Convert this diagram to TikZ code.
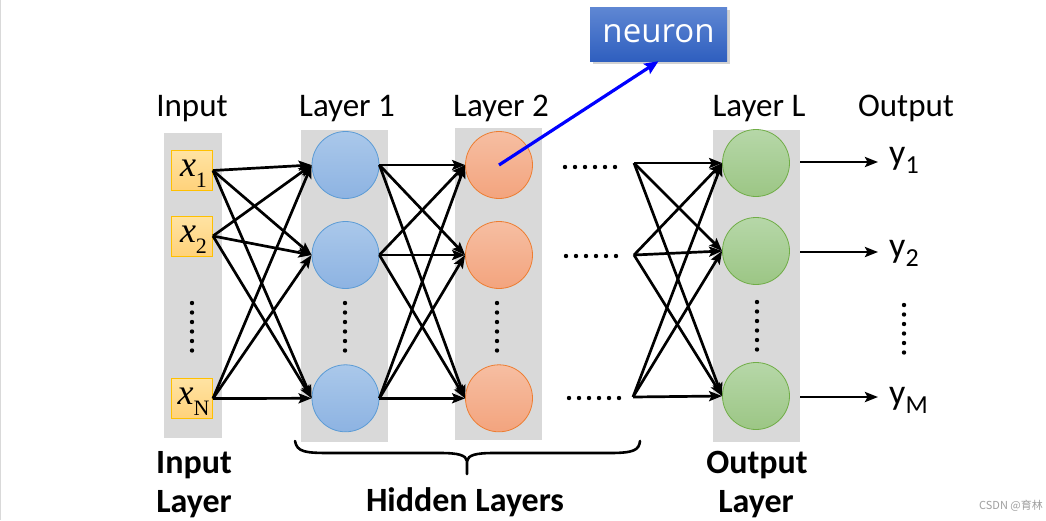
\documentclass[tikz,border=0pt]{standalone}
\usepackage{fontspec}
\setmainfont{Carlito}
\newfontfamily\timesf{Liberation Serif}
\newfontfamily\opensans{Open Sans}
\newfontfamily\cjk{Noto Sans CJK SC}
\usetikzlibrary{arrows.meta,shadows,calc}
\definecolor{colgray}{HTML}{D9D9D9}
\definecolor{bluetop}{HTML}{AAC8EA}
\definecolor{bluebot}{HTML}{8DB3E2}
\definecolor{blueedge}{HTML}{5B9BD5}
\definecolor{orgtop}{HTML}{F6BEA2}
\definecolor{orgbot}{HTML}{F3A47E}
\definecolor{orgedge}{HTML}{ED7D31}
\definecolor{grntop}{HTML}{B6D7A8}
\definecolor{grnbot}{HTML}{9CC685}
\definecolor{grnedge}{HTML}{70AD47}
\definecolor{inbtop}{HTML}{FFE3A3}
\definecolor{inbbot}{HTML}{FFD27A}
\definecolor{inbedge}{HTML}{FFC000}
\definecolor{neutop}{HTML}{5F87D3}
\definecolor{neubot}{HTML}{2F5FBF}
\newcommand\xlabel[1]{\hspace*{3pt}{\timesf\itshape\fontsize{36}{36}\selectfont x}\raisebox{-11pt}{\timesf\fontsize{22}{22}\selectfont #1}}
\newcommand\ylabel[1]{y\raisebox{-9pt}{\fontsize{26}{26}\selectfont #1}}
\begin{document}
\begin{tikzpicture}[x=1pt,y=-1pt,
  colbox/.style={rectangle,fill=colgray,draw=none,inner sep=0pt,anchor=north west},
  inbox/.style={rectangle,draw=inbedge,line width=0.9pt,top color=inbtop,bottom color=inbbot,
    minimum width=41pt,minimum height=40pt,inner sep=0pt,text height=21pt,text depth=9pt},
  neu/.style={circle,minimum size=67pt,inner sep=0pt,line width=0.8pt},
  neublue/.style={neu,draw=blueedge,top color=bluetop,bottom color=bluebot},
  neuorg/.style={neu,draw=orgedge,top color=orgtop,bottom color=orgbot},
  neugrn/.style={neu,draw=grnedge,top color=grntop,bottom color=grnbot},
  toplbl/.style={anchor=base,inner sep=0pt,font=\fontsize{33}{36}\selectfont},
  botlbl/.style={anchor=base,inner sep=0pt,font=\bfseries\fontsize{34}{36}\selectfont},
  ylbl/.style={anchor=base west,inner sep=0pt,font=\fontsize{36}{38}\selectfont},
  conn/.style={line width=2.7pt,-{Stealth[length=13pt,width=10pt,inset=2.5pt]}},
  bluearr/.style={blue,line width=3.2pt,-{Stealth[length=14pt,width=12pt,inset=2.5pt]}},
  dotfill/.style={fill=black}
]
\useasboundingbox (0,0) rectangle (1046,520);
\fill[white] (0,0) rectangle (1046,520);
\draw[gray!30,line width=1.2pt] (0.6,0) -- (0.6,520);

% columns
\node[colbox,minimum width=58pt,minimum height=305pt] (c0) at (164,133) {};
\node[colbox,minimum width=87pt,minimum height=312pt] (c1) at (301,130) {};
\node[colbox,minimum width=87pt,minimum height=312pt] (c2) at (455,128) {};
\node[colbox,minimum width=87pt,minimum height=312pt] (c3) at (713,130) {};

% input boxes
\node[inbox] (x1) at (192,170.5) {\xlabel{1}};
\node[inbox] (x2) at (192,236) {\xlabel{2}};
\node[inbox] (xN) at (192,398.5) {\xlabel{N}};

% layer 1
\node[neublue] (l1a) at (345.5,165) {};
\node[neublue] (l1b) at (345.5,255) {};
\node[neublue] (l1c) at (345.5,398.3) {};
% layer 2
\node[neuorg] (l2a) at (499,165) {};
\node[neuorg] (l2b) at (499,255) {};
\node[neuorg] (l2c) at (499,398.3) {};
% layer L
\node[neugrn] (lLa) at (756,163) {};
\node[neugrn] (lLb) at (756,251) {};
\node[neugrn] (lLc) at (756,396) {};

% vertical dots
\foreach \xx/\yy in {192/303,345/303,497/303,757/302,904/305}{
  \foreach \k in {0,...,5}{
    \fill[dotfill] (\xx,\yy+\k*9.5) circle (2.2pt);
  }
}
% horizontal dots
\foreach \xx/\yy in {565/167,566/256,569/398}{
  \foreach \k in {0,...,5}{
    \fill[dotfill] (\xx+\k*10,\yy) circle (2.2pt);
  }
}

% connections input -> layer 1
\foreach \s in {x1,x2,xN}{
  \foreach \t in {l1a,l1b,l1c}{
    \draw[conn] (\s.east) -- (\t.west);
  }
}
% layer 1 -> layer 2
\foreach \s in {l1a,l1b,l1c}{
  \foreach \t in {l2a,l2b,l2c}{
    \draw[conn] (\s.east) -- (\t.west);
  }
}
% ... -> layer L
\coordinate (d1) at (634,163);
\coordinate (d2) at (634,255);
\coordinate (d3) at (633,397);
\foreach \s in {d1,d2,d3}{
  \foreach \t in {lLa,lLb,lLc}{
    \draw[conn] (\s) -- (\t.west);
  }
}
% outputs
\coordinate (o1s) at (800,162); \coordinate (o1e) at (878,162);
\coordinate (o2s) at (800,252); \coordinate (o2e) at (878,252);
\coordinate (o3s) at (800,397); \coordinate (o3e) at (878,397);
\draw[conn] (o1s) -- (o1e);
\draw[conn] (o2s) -- (o2e);
\draw[conn] (o3s) -- (o3e);
\node[ylbl] (y1) at (889,164) {\ylabel{1}};
\node[ylbl] (y2) at (889,257) {\ylabel{2}};
\node[ylbl] (yM) at (889,404) {\ylabel{M}};

% top labels
\node[toplbl] (tin) at (192,116) {Input};
\node[toplbl] (tl1) at (347,116) {Layer 1};
\node[toplbl] (tl2) at (501,116) {Layer 2};
\node[toplbl] (tlL) at (759,116) {Layer L};
\node[toplbl] (tout) at (906,116) {Output};

% neuron box
\node[rectangle,top color=neutop,bottom color=neubot,minimum width=137pt,minimum height=54pt,inner sep=0pt,
  drop shadow={shadow xshift=2.5pt,shadow yshift=-2.5pt,opacity=0.35},
  text=white,font=\opensans\fontsize{33}{34}\selectfont] (neuron) at (658.5,34) {neuron};
\draw[bluearr] (l2a.center) -- (neuron.south);

% brace
\draw[line width=2.6pt,line cap=round] (295,441) .. controls (297,452) and (305,453) .. (330,453) -- (440,453)
  .. controls (458,453) and (466,455) .. (467,461) -- (467,474);
\draw[line width=2.6pt,line cap=round] (467,461) .. controls (468,455) and (476,453) .. (494,453) -- (610,453)
  .. controls (634,453) and (639,450) .. (640,441);

% bottom labels
\node[botlbl] (bin1) at (194,473) {Input};
\node[botlbl] (bin2) at (194,512) {Layer};
\node[botlbl] (bhid) at (465,511) {Hidden Layers};
\node[botlbl] (bout1) at (757,473) {Output};
\node[botlbl] (bout2) at (756,512) {Layer};

% watermark
\node[anchor=base east,inner sep=0pt,text=gray!75,font=\cjk\fontsize{11}{12}\selectfont] (wm) at (1043,509) {CSDN @育林};
\end{tikzpicture}
\end{document}
